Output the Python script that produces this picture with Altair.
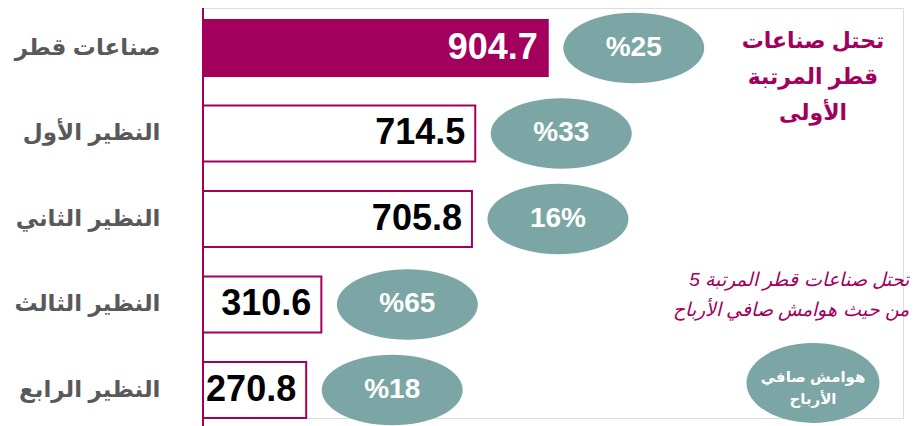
import altair as alt
import pandas as pd

categories = ["صناعات قطر", "النظير الأول", "النظير الثاني", "النظير الثالث", "النظير الرابع"]
values = [904.7, 714.5, 705.8, 310.6, 270.8]
value_labels = ["904.7", "714.5", "705.8", "310.6", "270.8"]
margin_labels = ["%25", "%33", "16%", "%65", "%18"]

note_rank = ["تحتل صناعات", "قطر المرتبة", "الأولى"]
note_margin = ["تحتل صناعات قطر المرتبة 5", "من حيث هوامش صافي الأرباح"]
badge_text = ["هوامش صافي", "الأرباح"]

df = pd.DataFrame({
    "category": categories,
    "value": values,
    "vlabel": value_labels,
    "margin": margin_labels,
})
one = pd.DataFrame({"k": [0]})

MAGENTA = "#A2005C"
TEAL = "#7BA6A5"
GRAY = "#595959"
FONT = "Arial, Liberation Sans, DejaVu Sans, sans-serif"

ELLIPSE = ("M -1 0 C -1 -0.2761 -0.5523 -0.5 0 -0.5 C 0.5523 -0.5 1 -0.2761 1 0 "
           "C 1 0.2761 0.5523 0.5 0 0.5 C -0.5523 0.5 -1 0.2761 -1 0 Z")
ELLIPSE_TALL = ("M -1 0 C -1 -0.3314 -0.5523 -0.6 0 -0.6 C 0.5523 -0.6 1 -0.3314 1 0 "
                "C 1 0.3314 0.5523 0.6 0 0.6 C -0.5523 0.6 -1 0.3314 -1 0 Z")

W, H = 700, 410
x_scale = alt.Scale(domain=[0, 1837], nice=False, zero=True)
y_scale = alt.Scale(domain=categories, paddingInner=0.345, paddingOuter=0.07, align=1)

x_enc = alt.X("value:Q", scale=x_scale, axis=None)
y_enc = alt.Y(
    "category:N", scale=y_scale, sort=categories,
    axis=alt.Axis(title=None, ticks=False, labelPadding=43, labelFontSize=23,
                  labelFont=FONT, labelFontWeight="bold", labelColor=GRAY,
                  domain=False, labelLimit=300, grid=False),
)

base = alt.Chart(df)

axis_line = alt.Chart(one).mark_rule(color=MAGENTA, strokeWidth=2).encode(
    x=alt.value(0), y=alt.value(0), y2=alt.value(H + 8))

bars = base.mark_bar(stroke=MAGENTA, strokeWidth=2).encode(
    x=x_enc, y=y_enc,
    fill=alt.condition(alt.datum.category == categories[0], alt.value(MAGENTA), alt.value("white")),
)

vals = base.mark_text(align="right", baseline="middle", dx=-10, fontSize=36,
                      fontWeight="bold", font=FONT).encode(
    x=x_enc, y=alt.Y("category:N", scale=y_scale, sort=categories),
    text="vlabel:N",
    color=alt.condition(alt.datum.category == categories[0], alt.value("white"), alt.value("black")),
)

ell = base.mark_point(shape=ELLIPSE, size=141 ** 2, filled=True, fill=TEAL, opacity=1,
                      strokeWidth=0, xOffset=86).encode(
    x=x_enc, y=alt.Y("category:N", scale=y_scale, sort=categories),
)

pct = base.mark_text(align="center", baseline="middle", dx=86, fontSize=28,
                     fontWeight="bold", font=FONT, color="white").encode(
    x=x_enc, y=alt.Y("category:N", scale=y_scale, sort=categories),
    text="margin:N",
)

n1 = alt.Chart(one).mark_text(align="center", baseline="middle", fontSize=22, fontWeight="bold",
                              font=FONT, color=MAGENTA, lineHeight=36).encode(
    x=alt.value(610), y=alt.value(33), text=alt.value(note_rank))

n2 = alt.Chart(one).mark_text(align="right", baseline="middle", fontSize=19, fontStyle="italic",
                              font=FONT, color=MAGENTA, lineHeight=30).encode(
    x=alt.value(706), y=alt.value(272), text=alt.value(note_margin))

b_ell = alt.Chart(one).mark_point(shape=ELLIPSE_TALL, size=133 ** 2, filled=True, fill=TEAL,
                                  opacity=1, strokeWidth=0).encode(
    x=alt.value(610), y=alt.value(375))

b_txt = alt.Chart(one).mark_text(align="center", baseline="middle", fontSize=15, fontWeight="bold",
                                 font=FONT, color="white", lineHeight=22).encode(
    x=alt.value(610), y=alt.value(369), text=alt.value(badge_text))

chart = alt.layer(bars, axis_line, vals, ell, pct, n1, n2, b_ell, b_txt).properties(
    width=W, height=H,
    autosize=alt.AutoSizeParams(type="none"),
    padding={"left": 195, "top": 0, "right": 7, "bottom": 8},
).configure_view(stroke=None).configure(background="white")

chart.save("out.html", embed_options={"renderer": "svg", "actions": False})
